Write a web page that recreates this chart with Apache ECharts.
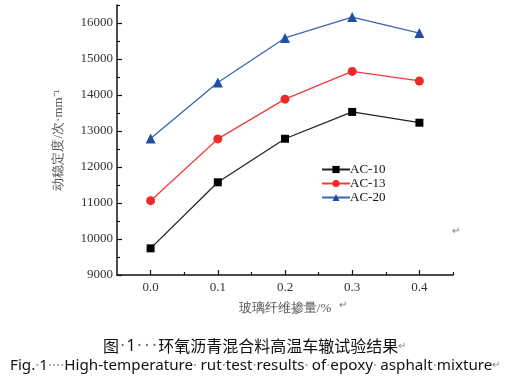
<!DOCTYPE html>
<html>
<head>
<meta charset="utf-8">
<script src="https://cdn.jsdelivr.net/npm/echarts@6/dist/echarts.min.js"></script>
<style>html,body{margin:0;padding:0;background:#fff}#c{width:507px;height:386px}</style>
</head>
<body>
<div id="c"></div>
<script>
var xValues = [0.0, 0.1, 0.2, 0.3, 0.4];
var ac10 = [9740, 11575, 12785, 13530, 13230];
var ac13 = [11065, 12780, 13885, 14655, 14390];
var ac20 = [12790, 14345, 15585, 16165, 15720];
var seriesNames = ['AC-10', 'AC-13', 'AC-20'];
var xMajorTicks = [0.0, 0.1, 0.2, 0.3, 0.4];
var xMinorTicks = [0.05, 0.15, 0.25, 0.35, 0.45];
var yMajorTicks = [9000, 10000, 11000, 12000, 13000, 14000, 15000, 16000];
var yMinorTicks = [9500, 10500, 11500, 12500, 13500, 14500, 15500, 16500];

function pairs(vals) { return xValues.map(function (x, i) { return [x, vals[i]]; }); }

var serif = 'Liberation Serif';
var chart = echarts.init(document.getElementById('c'), null, { renderer: 'canvas' });
var axisLine = { show: true, onZero: false, lineStyle: { color: '#111', width: 1.5 } };
chart.setOption({
  animation: false,
  backgroundColor: '#fff',
  textStyle: { fontFamily: serif },
  grid: { left: 117, right: 54, top: 5, bottom: 111 },
  legend: {
    orient: 'vertical', left: 316, top: 158, itemWidth: 28, itemHeight: 9, itemGap: 1,
    data: seriesNames,
    textStyle: { fontFamily: serif, fontSize: 13, lineHeight: 13, color: '#111', padding: [0, 0, 0, -5] }
  },
  xAxis: [{
    type: 'value', min: -0.05, max: 0.45,
    axisLine: axisLine, splitLine: { show: false },
    axisTick: { show: true, inside: true, length: 5, customValues: xMajorTicks, lineStyle: { color: '#111', width: 1.2 } },
    axisLabel: { customValues: xMajorTicks, formatter: function (v) { return v.toFixed(1); }, fontFamily: serif, fontSize: 13, color: '#333', margin: 6 },
    name: '玻璃纤维掺量/%', nameLocation: 'middle', nameGap: 27,
    nameTextStyle: { fontFamily: serif, fontSize: 13, color: '#555' }
  }, {
    type: 'value', min: -0.05, max: 0.45, position: 'bottom',
    axisLine: { show: false, onZero: false }, splitLine: { show: false }, axisLabel: { show: false },
    axisTick: { show: true, inside: true, length: 3, customValues: xMinorTicks, lineStyle: { color: '#111', width: 1.2 } }
  }],
  yAxis: [{
    type: 'value', min: 9000, max: 16500,
    axisLine: axisLine, splitLine: { show: false },
    axisTick: { show: true, inside: true, length: 5, customValues: yMajorTicks, lineStyle: { color: '#111', width: 1.2 } },
    axisLabel: { customValues: yMajorTicks, formatter: function (v) { return String(v); }, fontFamily: serif, fontSize: 13, color: '#333', margin: 4 },
    name: '动稳定度/次·mm⁻¹', nameLocation: 'middle', nameGap: 52,
    nameTextStyle: { fontFamily: serif, fontSize: 13, color: '#555' }
  }, {
    type: 'value', min: 9000, max: 16500, position: 'left',
    axisLine: { show: false, onZero: false }, splitLine: { show: false }, axisLabel: { show: false },
    axisTick: { show: true, inside: true, length: 3, customValues: yMinorTicks, lineStyle: { color: '#111', width: 1.2 } }
  }],
  series: [
    { name: seriesNames[0], type: 'line', data: pairs(ac10), symbol: 'rect', symbolSize: 8,
      itemStyle: { color: '#000' }, lineStyle: { color: '#222', width: 1.3 } },
    { name: seriesNames[1], type: 'line', data: pairs(ac13), symbol: 'circle', symbolSize: 9,
      itemStyle: { color: '#f02828' }, lineStyle: { color: '#f03c3c', width: 1.3 } },
    { name: seriesNames[2], type: 'line', data: pairs(ac20), symbol: 'triangle', symbolSize: 10,
      itemStyle: { color: '#1f50a6' }, lineStyle: { color: '#3a66b4', width: 1.3 } }
  ],
  graphic: [
    { type: 'text', left: 339, top: 300, style: { text: '↵', fontSize: 10, fill: '#777' } },
    { type: 'text', left: 452, top: 226, style: { text: '↵', fontSize: 10, fill: '#777' } },
    { type: 'text', left: 103, top: 338, style: {
      text: '{t|图}{d|·}{n|1}{d|·}{d|·}{d|·}{t|环氧沥青混合料高温车辙试验结果}{r|↵}',
      rich: {
        t: { fontFamily: 'Noto Sans CJK SC', fontSize: 16, fill: '#111' },
        n: { fontFamily: 'Noto Sans', fontSize: 16, fill: '#111' },
        d: { fontFamily: 'Noto Sans', fontSize: 16, fill: '#666', width: 7.5, align: 'center' },
        r: { fontSize: 10, fill: '#888' }
      } } },
    { type: 'text', left: 10, top: 358, style: {
      text: '{t|Fig.}{d|·}{t|1}{d|····}{t|High-temperature}{d|·} {t|rut}{d|·}{t|test}{d|·}{t|results}{d|·} {t|of}{d|·}{t|epoxy}{d|·} {t|asphalt}{d|·}{t|mixture}{r|↵}',
      rich: {
        t: { fontFamily: 'Noto Sans', fontSize: 15.2, fill: '#111' },
        d: { fontFamily: 'Noto Sans', fontSize: 15.2, fill: '#999' },
        r: { fontSize: 10, fill: '#888' }
      } } }
  ]
});
</script>
</body>
</html>
